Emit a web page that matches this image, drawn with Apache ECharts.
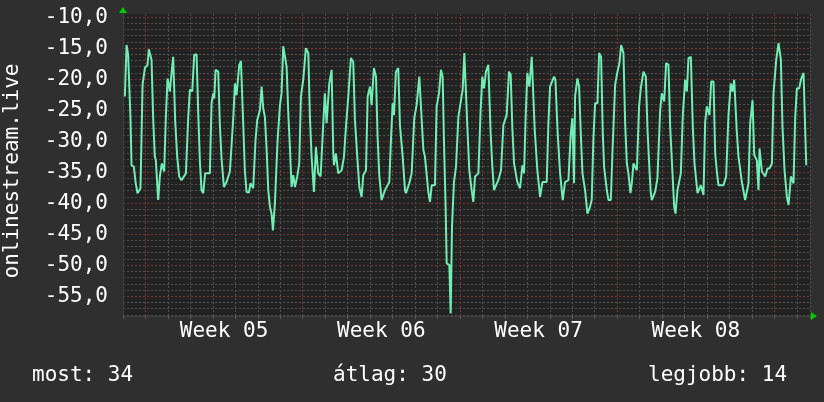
<!DOCTYPE html>
<html>
<head>
<meta charset="utf-8">
<script src="https://cdn.jsdelivr.net/npm/echarts@6/dist/echarts.min.js"></script>
<style>
html,body{margin:0;padding:0;background:#2f2f2f;}
#chart{width:824px;height:402px;}
</style>
</head>
<body>
<div id="chart"></div>
<script>
// time in hours from Monday 00:00 of Week 05
const times = [
-22.0,-20.2,-18.5,-17.4,-16.0,-14.9,-12.4,-10.6,-8.5,-5.3,
-3.1,-0.6,2.2,3.6,5.4,6.5,8.3,10.0,11.1,13.6,
15.4,17.5,20.0,21.8,23.6,26.1,26.8,29.6,31.8,33.9,
36.0,38.5,43.2,45.7,47.5,50.0,52.1,54.6,56.4,58.1,
59.9,61.7,63.8,68.8,70.6,72.4,73.5,74.9,77.7,79.5,
81.3,83.8,86.6,90.2,93.8,95.6,97.3,100.2,102.0,104.5,
106.2,108.0,110.5,112.3,115.1,117.6,119.4,122.3,124.1,125.8,
127.6,129.4,131.2,133.0,134.7,136.2,138.3,141.2,143.7,145.4,
147.2,149.0,150.8,152.6,154.3,156.1,157.9,159.7,162.2,164.3,
166.1,168.6,171.4,174.0,175.7,177.5,180.0,182.1,184.6,187.1,
188.2,190.0,191.7,193.5,196.4,198.9,
200.7,201.4,203.5,206.0,209.6,212.1,214.2,216.7,219.5,222.0,
223.8,226.3,228.5,230.9,232.7,235.6,237.4,239.9,241.6,244.1,
246.3,248.0,249.8,252.3,254.1,255.9,260.5,262.3,264.1,265.5,
267.6,270.1,271.9,274.8,277.3,278.3,281.9,284.4,287.2,289.7,
292.6,294.0,296.9,298.6,302.2,304.0,305.8,309.3,311.1,313.6,
315.7,317.5,319.0,320.7,321.8,324.7,326.1,327.5,329.6,331.8,
334.3,338.9,340.7,342.5,343.9,346.0,348.5,350.3,352.1,355.7,
358.1,359.9,361.7,363.8,366.3,368.8,370.6,372.4,374.2,377.0,
379.9,382.4,385.9,388.4,390.2,392.0,393.8,397.3,400.2,402.7,
404.5,406.2,408.0,410.2,412.7,414.4,415.9,418.7,421.6,424.1,
428.7,430.5,432.3,436.5,438.0,440.5,443.0,445.8,448.3,451.9,
454.3,456.1,457.9,459.0,461.5,463.3,
465.1,466.9,469.7,472.2,474.4,476.8,478.6,480.4,482.9,484.7,
486.8,488.6,490.0,492.9,494.7,497.2,498.9,501.8,504.3,506.4,
508.2,510.7,512.5,514.3,516.0,518.2,519.6,521.4,525.0,527.4,
529.2,532.1,534.6,536.4,538.5,539.9,541.0,544.5,547.0,549.9,
551.7,554.2,556.3,558.8,560.6,563.1,564.9,566.3,568.4,572.0,
574.1,576.6,578.4,580.2,582.7,584.8,586.6,589.8,593.4,596.2,
598.0,599.8,602.6,604.4,606.9,608.7,610.5,612.2,617.6,620.4,
622.9,625.4,627.2,629.0,631.8,633.6,637.2,640.7,644.3,646.1,
648.6,650.4,653.2,655.0,656.1,658.6,662.1,664.6,666.8,669.3,
671.0,673.9,676.4,678.9,680.6,682.8,685.3,687.1,689.6,692.4,
694.2,696.0,698.5,700.3,703.1,706.0
];
const values = [
-22.8,-14.5,-16.1,-16.1,-26.3,-33.9,-34.1,-36.6,-38.4,-37.6,
-20.9,-18.2,-17.7,-15.2,-15.3,-16.9,-26.6,-32.5,-33.1,-39.5,
-35.7,-33.6,-34.9,-26.1,-19.9,-22.0,-20.7,-16.4,-26.9,-32.5,
-35.7,-36.3,-35.2,-26.1,-21.7,-22.0,-16.1,-16.0,-25.5,-33.1,
-37.9,-38.4,-35.2,-35.2,-23.9,-22.3,-23.1,-18.5,-18.8,-27.4,
-32.8,-37.4,-36.6,-34.9,-26.3,-20.7,-22.6,-17.7,-17.1,-27.4,
-34.7,-38.2,-38.3,-36.8,-37.6,-29.8,-26.6,-25.0,-21.2,-24.7,
-26.1,-31.2,-37.9,-40.6,-41.7,-44.4,-40.0,-29.8,-24.2,-22.3,
-14.7,-14.7,-18.0,-25.5,-30.9,-37.4,-35.5,-37.4,-35.7,-33.6,
-22.8,-20.1,-15.0,-15.8,-26.1,-32.5,-38.2,-30.9,-35.2,-35.7,
-32.5,-27.1,-22.3,-27.1,-20.7,-18.5,
-32.0,-33.9,-32.0,-35.2,-34.7,-32.5,-27.7,-22.8,-16.6,-17.2,
-26.6,-32.5,-37.4,-39.0,-35.5,-34.7,-22.8,-21.2,-24.2,-18.2,
-19.6,-29.3,-35.5,-39.5,-39.8,-37.9,-36.6,-29.8,-23.9,-25.8,
-18.8,-18.2,-27.4,-32.5,-37.9,-38.4,-36.8,-35.2,-26.3,-24.2,
-19.6,-19.9,-31.4,-32.5,-38.2,-39.8,-37.1,-37.1,-24.4,-22.3,
-18.5,-19.6,-30.4,-40.6,-49.7,-50.0,-57.8,-43.8,-36.6,-34.1,
-26.1,-21.7,-15.8,-16.1,-27.7,-34.7,-37.9,-39.8,-35.7,-35.2,
-25.0,-19.6,-21.5,-18.8,-17.7,-28.7,-34.1,-37.9,-37.9,-36.3,
-34.7,-27.4,-25.8,-18.8,-19.3,-27.9,-33.6,-36.6,-37.6,-33.9,
-35.2,-26.1,-19.0,-21.2,-16.4,-16.1,-28.2,-34.7,-39.0,-36.6,
-36.6,-27.1,-21.2,-19.6,-20.1,-29.0,-35.2,-39.5,-36.6,-36.3,
-29.0,-26.3,-36.8,-22.8,-19.9,-21.2,
-28.7,-35.2,-37.9,-41.7,-40.9,-39.5,-29.5,-23.9,-23.9,-15.8,
-16.4,-28.7,-34.1,-37.9,-39.5,-39.5,-32.0,-20.9,-18.8,-17.4,
-14.5,-15.8,-27.1,-33.6,-35.2,-38.4,-36.8,-33.6,-34.7,-24.4,
-21.5,-18.8,-19.6,-28.2,-34.7,-38.4,-39.5,-38.2,-36.0,-25.0,
-22.3,-23.6,-17.4,-17.7,-27.7,-35.2,-40.6,-41.7,-37.9,-35.2,
-25.8,-20.1,-22.0,-16.6,-16.4,-27.7,-33.6,-38.4,-37.1,-38.7,
-26.9,-24.4,-25.8,-20.4,-20.4,-32.0,-34.9,-37.1,-37.1,-35.7,
-25.8,-20.7,-22.0,-20.1,-28.5,-32.5,-36.6,-39.5,-36.8,-27.1,
-23.4,-32.2,-33.1,-37.9,-31.2,-34.9,-35.7,-34.4,-34.4,-33.6,
-22.3,-16.9,-14.2,-16.9,-27.7,-34.7,-39.0,-40.3,-35.7,-36.8,
-26.1,-21.5,-21.5,-20.1,-19.0,-33.9
];
const weekLabels = ['Week 05', 'Week 06', 'Week 07', 'Week 08'];
const weekStarts = [0, 168, 336, 504, 672]; // hours, Monday 00:00
const statLabels = ['most', 'átlag', 'legjobb'];
const statValues = [34, 30, 14];
const seriesName = 'onlinestream.live';

const FONT = 'DejaVu Sans Mono';
const n = Math.min(times.length, values.length);
const data = [];
for (let i = 0; i < n; i++) data.push([times[i], values[i]]);

const MINOR = '#525252';
const MAJOR = '#7c3636';

const statLeft = [32, 333, 648];
const titles = statLabels.map((l, i) => ({
  text: l + ': ' + statValues[i],
  left: statLeft[i], top: 365, padding: 0,
  textStyle: {color: '#ffffff', fontSize: 21, fontWeight: 'normal', fontFamily: FONT}
}));

const XMIN = -24, XMAX = 710, YMIN = -58.2, YMAX = -9.5;

const chart = echarts.init(document.getElementById('chart'), null, {renderer: 'canvas'});
chart.setOption({
  backgroundColor: '#2f2f2f',
  animation: false,
  textStyle: {fontFamily: FONT},
  title: titles,
  grid: {left: 123, right: 14, top: 14, bottom: 86, show: true, backgroundColor: '#222222', borderWidth: 0,
    containLabel: false, outerBoundsMode: 'none'},
  xAxis: [
    {
      type: 'value', position: 'bottom', min: XMIN, max: XMAX, interval: 24,
      axisLine: {show: true, onZero: false, lineStyle: {color: '#3e3e3e'}},
      axisTick: {show: true, length: 3, lineStyle: {color: '#5a5a5a'}},
      axisLabel: {show: false},
      splitLine: {show: true, lineStyle: {color: MINOR, type: [2, 2], width: 1}}
    },
    {
      type: 'value', position: 'bottom', min: XMIN, max: XMAX, interval: 12,
      axisLine: {show: false}, axisTick: {show: false}, splitLine: {show: false},
      axisLabel: {
        color: '#ffffff', fontSize: 21, fontFamily: FONT, margin: 5,
        formatter: function (v) {
          const k = (v - 84) / 168;
          if (Math.abs(k - Math.round(k)) < 1e-6 && weekLabels[Math.round(k)]) return weekLabels[Math.round(k)];
          return '';
        }
      }
    },
    {
      type: 'value', position: 'bottom', min: XMIN, max: XMAX,
      axisLine: {show: true, onZero: false, symbol: ['none', 'triangle'], symbolSize: [8, 6], symbolOffset: [0, 4],
        lineStyle: {color: '#00cc00', width: 0}},
      axisTick: {show: false}, axisLabel: {show: false}, splitLine: {show: false}
    }
  ],
  yAxis: [
    {
      type: 'value', position: 'left', min: YMIN, max: YMAX, splitNumber: 10,
      name: seriesName, nameLocation: 'middle', nameGap: 100,
      nameTextStyle: {color: '#ffffff', fontSize: 21, fontFamily: FONT, padding: [0, 12, 0, 0]},
      axisLine: {show: true, onZero: false, lineStyle: {color: '#3e3e3e'}},
      axisTick: {show: false},
      axisLabel: {
        color: '#ffffff', fontSize: 21, fontFamily: FONT, margin: 15,
        showMinLabel: false, showMaxLabel: false,
        formatter: v => v.toFixed(1).replace('.', ',')
      },
      splitLine: {show: true, showMinLine: false, showMaxLine: false, lineStyle: {color: MAJOR, type: [2, 2], width: 1}},
      minorTick: {show: false, splitNumber: 5},
      minorSplitLine: {show: true, lineStyle: {color: MINOR, type: [2, 2], width: 1}}
    },
    {
      type: 'value', position: 'left', min: YMIN, max: YMAX,
      axisLine: {show: true, onZero: false, symbol: ['none', 'triangle'], symbolSize: [8, 6], symbolOffset: [0, 4],
        lineStyle: {color: '#00cc00', width: 0}},
      axisTick: {show: false}, axisLabel: {show: false}, splitLine: {show: false}
    }
  ],
  series: [
    {
      name: 'weeks', type: 'line', xAxisIndex: 0, yAxisIndex: 0, data: [], z: 2, silent: true,
      markLine: {
        silent: true, symbol: ['none', 'none'], label: {show: false}, animation: false,
        lineStyle: {color: MAJOR, type: [2, 2], width: 1},
        emphasis: {disabled: true},
        data: weekStarts.map(v => ({xAxis: v}))
      }
    },
    {
      name: seriesName, type: 'line', xAxisIndex: 0, yAxisIndex: 0,
      data: data, showSymbol: false, symbol: 'none', z: 5,
      lineStyle: {color: '#70eeb4', width: 2}
    }
  ]
});
</script>
</body>
</html>
